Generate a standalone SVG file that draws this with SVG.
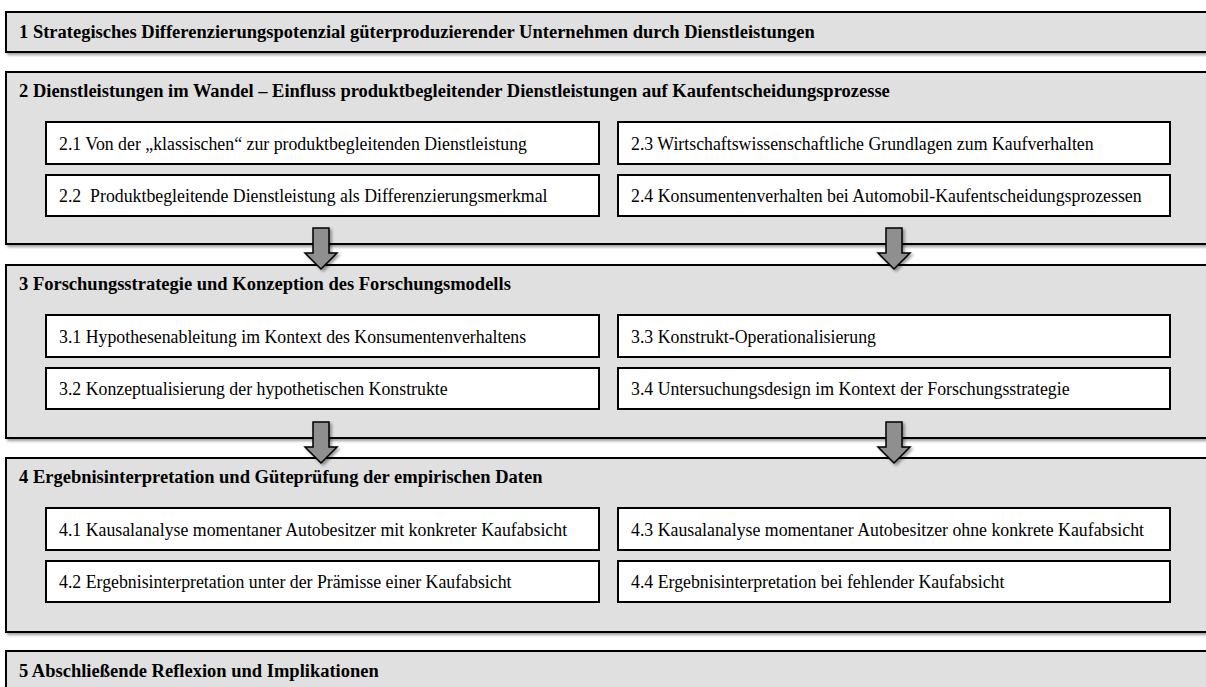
<svg xmlns="http://www.w3.org/2000/svg" width="1206" height="687" viewBox="0 0 1206 687">
  <style>
    .sec { fill: #e0e0e0; stroke: #000; stroke-width: 2; }
    .sub { fill: #fff; stroke: #000; stroke-width: 2; }
    .title { font-family: "Liberation Serif", "Times New Roman", serif; font-weight: bold; font-size: 18.5px; fill: #000; }
    .item { font-family: "Liberation Serif", "Times New Roman", serif; font-size: 17.8px; fill: #000; white-space: pre; }
    .arrow { fill: #8f8f8f; stroke: #000; stroke-width: 1.5; stroke-linejoin: miter; }
  </style>
  <defs>
    <filter id="shadow" x="-20%" y="-20%" width="140%" height="140%">
      <feGaussianBlur in="SourceAlpha" stdDeviation="1.5"/>
      <feOffset dx="1.5" dy="1.5" result="b"/>
      <feComponentTransfer><feFuncA type="linear" slope="0.4"/></feComponentTransfer>
      <feMerge><feMergeNode/><feMergeNode in="SourceGraphic"/></feMerge>
    </filter>
    <path id="downArrow" d="M -8 0 H 8 V 25 H 16 L 0 41 L -16 25 H -8 Z"/>
  </defs>
  <rect width="1206" height="687" fill="#fff"/>

  <!-- Chapter 1 -->
  <g id="ch1">
    <rect class="sec" x="6" y="12" width="1210" height="40" filter="url(#shadow)"/>
    <text class="title" x="19" y="38">1 Strategisches Differenzierungspotenzial güterproduzierender Unternehmen durch Dienstleistungen</text>
  </g>

  <!-- Chapter 2 -->
  <g id="ch2">
    <rect class="sec" x="6" y="72" width="1210" height="172" filter="url(#shadow)"/>
    <text class="title" x="19" y="97">2 Dienstleistungen im Wandel – Einfluss produktbegleitender Dienstleistungen auf Kaufentscheidungsprozesse</text>
  </g>
  <g id="ch2-1"><rect class="sub" x="46" y="122" width="553" height="42"/><text class="item" x="59" y="150">2.1 Von der „klassischen“ zur produktbegleitenden Dienstleistung</text></g>
  <g id="ch2-2"><rect class="sub" x="46" y="175" width="553" height="41"/><text class="item" x="59" y="202" xml:space="preserve">2.2  Produktbegleitende Dienstleistung als Differenzierungsmerkmal</text></g>
  <g id="ch2-3"><rect class="sub" x="618" y="122" width="552" height="42"/><text class="item" x="631" y="150">2.3 Wirtschaftswissenschaftliche Grundlagen zum Kaufverhalten</text></g>
  <g id="ch2-4"><rect class="sub" x="618" y="175" width="552" height="41"/><text class="item" x="631" y="202">2.4 Konsumentenverhalten bei Automobil-Kaufentscheidungsprozessen</text></g>

  <!-- Chapter 3 -->
  <g id="ch3">
    <rect class="sec" x="6" y="265" width="1210" height="173" filter="url(#shadow)"/>
    <text class="title" x="19" y="290">3 Forschungsstrategie und Konzeption des Forschungsmodells</text>
  </g>
  <g id="ch3-1"><rect class="sub" x="46" y="315" width="553" height="42"/><text class="item" x="59" y="343">3.1 Hypothesenableitung im Kontext des Konsumentenverhaltens</text></g>
  <g id="ch3-2"><rect class="sub" x="46" y="368" width="553" height="41"/><text class="item" x="59" y="395">3.2 Konzeptualisierung der hypothetischen Konstrukte</text></g>
  <g id="ch3-3"><rect class="sub" x="618" y="315" width="552" height="42"/><text class="item" x="631" y="343">3.3 Konstrukt-Operationalisierung</text></g>
  <g id="ch3-4"><rect class="sub" x="618" y="368" width="552" height="41"/><text class="item" x="631" y="395">3.4 Untersuchungsdesign im Kontext der Forschungsstrategie</text></g>

  <!-- Chapter 4 -->
  <g id="ch4">
    <rect class="sec" x="6" y="458" width="1210" height="174" filter="url(#shadow)"/>
    <text class="title" x="19" y="483">4 Ergebnisinterpretation und Güteprüfung der empirischen Daten</text>
  </g>
  <g id="ch4-1"><rect class="sub" x="46" y="508" width="553" height="42"/><text class="item" x="59" y="536">4.1 Kausalanalyse momentaner Autobesitzer mit konkreter Kaufabsicht</text></g>
  <g id="ch4-2"><rect class="sub" x="46" y="561" width="553" height="41"/><text class="item" x="59" y="588">4.2 Ergebnisinterpretation unter der Prämisse einer Kaufabsicht</text></g>
  <g id="ch4-3"><rect class="sub" x="618" y="508" width="552" height="42"/><text class="item" x="631" y="536">4.3 Kausalanalyse momentaner Autobesitzer ohne konkrete Kaufabsicht</text></g>
  <g id="ch4-4"><rect class="sub" x="618" y="561" width="552" height="41"/><text class="item" x="631" y="588">4.4 Ergebnisinterpretation bei fehlender Kaufabsicht</text></g>

  <!-- Chapter 5 -->
  <g id="ch5">
    <rect class="sec" x="6" y="651" width="1210" height="60" filter="url(#shadow)"/>
    <text class="title" x="19" y="677">5 Abschließende Reflexion und Implikationen</text>
  </g>

  <!-- Flow arrows between chapters -->
  <g id="connectors" filter="url(#shadow)">
    <use href="#downArrow" class="arrow" x="321" y="228"/>
    <use href="#downArrow" class="arrow" x="894" y="228"/>
    <use href="#downArrow" class="arrow" x="321" y="422"/>
    <use href="#downArrow" class="arrow" x="894" y="422"/>
  </g>
</svg>
